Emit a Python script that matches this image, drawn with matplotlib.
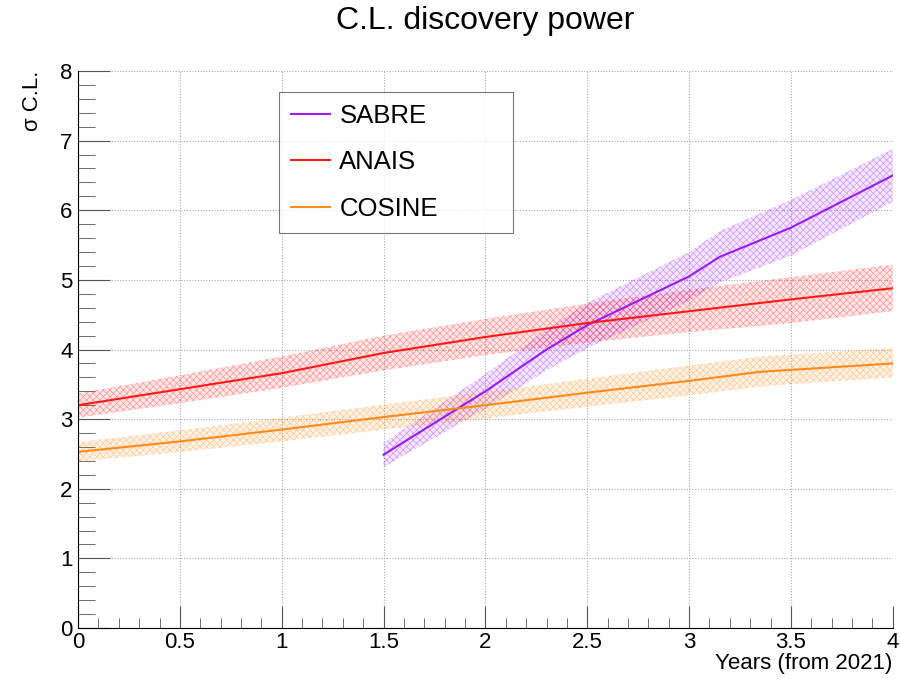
import matplotlib
matplotlib.use("Agg")
import matplotlib.pyplot as plt
from matplotlib.ticker import MultipleLocator

plt.rcParams['font.family'] = ['Liberation Sans', 'DejaVu Sans']
plt.rcParams['hatch.linewidth'] = 0.5

# data
sabre_x = [1.5, 2.0, 2.3, 2.5, 3.0, 3.15, 3.5, 4.0]
sabre_y = [2.49, 3.40, 4.00, 4.35, 5.05, 5.33, 5.75, 6.50]
sabre_lo = [2.31, 3.15, 3.70, 4.02, 4.70, 4.96, 5.35, 6.12]
sabre_hi = [2.66, 3.65, 4.28, 4.67, 5.40, 5.70, 6.15, 6.88]

anais_x = [0.0, 0.5, 1.0, 1.5, 2.0, 2.5, 3.0, 3.5, 4.0]
anais_y = [3.20, 3.43, 3.66, 3.95, 4.18, 4.38, 4.55, 4.72, 4.88]
anais_lo = [3.02, 3.23, 3.45, 3.70, 3.92, 4.10, 4.25, 4.38, 4.55]
anais_hi = [3.37, 3.63, 3.90, 4.20, 4.44, 4.66, 4.86, 5.04, 5.22]

cosine_x = [0.0, 0.5, 1.0, 1.5, 2.0, 2.5, 3.0, 3.35, 4.0]
cosine_y = [2.53, 2.68, 2.85, 3.03, 3.20, 3.38, 3.55, 3.68, 3.80]
cosine_lo = [2.39, 2.53, 2.68, 2.85, 3.01, 3.18, 3.34, 3.47, 3.60]
cosine_hi = [2.67, 2.84, 3.02, 3.21, 3.39, 3.58, 3.77, 3.90, 4.02]

series = [
    ("SABRE", "#9a1cf2", sabre_x, sabre_y, sabre_lo, sabre_hi),
    ("ANAIS", "#ff1a1a", anais_x, anais_y, anais_lo, anais_hi),
    ("COSINE", "#ff8a1a", cosine_x, cosine_y, cosine_lo, cosine_hi),
]

fig = plt.figure(figsize=(9, 6.79), dpi=100)
ax = fig.add_axes([0.0867, 0.0751, 0.9053, 0.8203])

for name, color, x, y, lo, hi in series:
    ax.fill_between(x, lo, hi, facecolor=color, alpha=0.10, linewidth=0)
    ax.fill_between(x, lo, hi, facecolor='none', edgecolor=color, alpha=0.4,
                    hatch='xxxxx', linewidth=0)
    ax.plot(x, y, color=color, linewidth=1.5, label=name)

ax.set_xlim(0, 4)
ax.set_ylim(0, 8)
ax.xaxis.set_major_locator(MultipleLocator(0.5))
ax.xaxis.set_minor_locator(MultipleLocator(0.1))
ax.yaxis.set_major_locator(MultipleLocator(1))
ax.yaxis.set_minor_locator(MultipleLocator(0.2))
ax.xaxis.set_major_formatter(plt.FuncFormatter(lambda v, p: f"{v:g}"))
ax.tick_params(which='both', direction='in', labelsize=16, color='#555555')
ax.tick_params(axis='x', which='major', length=16, pad=3)
ax.tick_params(axis='x', which='minor', length=7)
ax.tick_params(axis='y', which='major', length=23, pad=4)
ax.tick_params(axis='y', which='minor', length=12)
ax.spines['top'].set_visible(False)
ax.spines['right'].set_visible(False)
ax.grid(True, which='major', linestyle=(0, (1, 1.5)), color='#aaaaaa', linewidth=0.8)
ax.set_axisbelow(True)

ax.set_title("C.L. discovery power", fontsize=23, pad=30)
ax.set_xlabel("Years (from 2021)", fontsize=16, loc='right', labelpad=0)
ax.set_ylabel("σ C.L.", fontsize=16, loc='top', labelpad=12)

leg = ax.legend(loc='upper left', bbox_to_anchor=(0.2466, 0.709, 0.287, 0.253),
                mode='expand', fontsize=18.5,
                frameon=True, fancybox=False, edgecolor='#555555',
                handlelength=1.55, labelspacing=0.88, borderpad=0.45,
                handletextpad=0.35, borderaxespad=0)
leg.get_frame().set_linewidth(0.8)

fig.savefig("out.png", dpi=100)
